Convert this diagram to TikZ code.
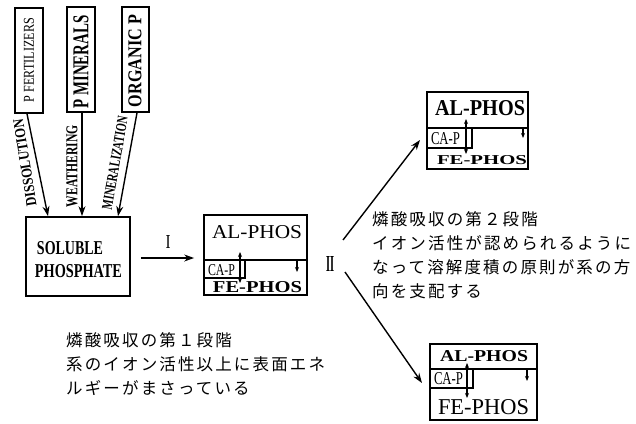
\documentclass[tikz,border=0pt]{standalone}
\usepackage{fontspec}
\setmainfont{Liberation Serif}
\newfontfamily\cjk[LetterSpace=13]{Noto Sans CJK JP}
\usetikzlibrary{arrows.meta}
\newcommand{\fitt}[3]{\resizebox{#1pt}{#2pt}{#3}}
\tikzset{
  box/.style={draw, line width=1.7pt, inner sep=0pt},
  lbl/.style={inner sep=0pt},
  arr/.style={line width=1.4pt, -{Stealth[length=10pt,width=7pt]}},
  inner/.style={line width=1.3pt},
  small/.style={line width=1.2pt, -{Stealth[length=5pt,width=4pt]}},
  dbl/.style={line width=1.2pt, {Stealth[length=5pt,width=4pt]}-{Stealth[length=5pt,width=4pt]}},
  jp/.style={inner sep=0pt, anchor=west, font=\cjk\fontsize{16.5pt}{20pt}\selectfont},
}
\begin{document}
\begin{tikzpicture}[x=1pt,y=-1pt]
\useasboundingbox (0,0) rectangle (636,423);

% top source boxes
\node[box, minimum width=28pt, minimum height=105pt] (F) at (29,60.5) {};
\node[box, minimum width=28pt, minimum height=105pt] (PM) at (81,59.5) {};
\node[box, minimum width=27pt, minimum height=105pt] (O) at (135.5,59.5) {};
\node[lbl, rotate=90] (Ft) at (29,60) {\fitt{84}{10}{P FERTILIZERS}};
\node[lbl, rotate=90] (PMt) at (81,62) {\fitt{93}{15}{\bfseries P MINERALS}};
\node[lbl, rotate=90] (Ot) at (135,61) {\fitt{92}{13}{\bfseries ORGANIC P}};

% soluble phosphate
\node[box, minimum width=104pt, minimum height=79pt] (S) at (78,256.5) {};
\node[lbl] (S1) at (70,248.5) {\fitt{66}{13}{\bfseries SOLUBLE}};
\node[lbl] (S2) at (78.5,271.5) {\fitt{87}{13}{\bfseries PHOSPHATE}};

% arrows to soluble phosphate
\draw[arr] ([xshift=-2pt]F.south) -- ([xshift=-30pt]S.north);
\draw[arr] ([xshift=1pt]PM.south) -- ([xshift=4pt]S.north);
\draw[arr] ([xshift=1.5pt]O.south) -- ([xshift=40pt]S.north);
\node[lbl, rotate=99] (D) at (25,163) {\fitt{88}{10}{\bfseries DISSOLUTION}};
\node[lbl, rotate=90] (W) at (72,166) {\fitt{82}{11}{\bfseries WEATHERING}};
\node[lbl, rotate=80] (Mz) at (115,163) {\fitt{94}{10}{\bfseries MINERALIZATION}};

% middle box
\node[box, minimum width=103pt, minimum height=80pt] (M) at (255.5,255) {};
\draw[inner] (204,260) -- (307,260);
\draw[inner] (204,278) -| (245,260);
\draw[dbl] (240,252) -- (240,283);
\draw[small] (297,260) -- (297,272);
\node[lbl] (Ma) at (257,232) {\fitt{90}{13}{AL-PHOS}};
\node[lbl] (Mc) at (221.5,270.5) {\fitt{27}{11}{CA-P}};
\node[lbl] (Mf) at (257.5,287.5) {\fitt{89}{11}{\bfseries FE-PHOS}};

% arrow I
\draw[arr, shorten <=10pt, shorten >=9pt] (S.east |- 0,258) -- (M.west |- 0,258);
\node[lbl] (I) at (168,241.5) {\fitt{5}{13}{I}};

% top right box
\node[box, minimum width=101pt, minimum height=77pt] (T) at (477.5,130.5) {};
\draw[inner] (427,128) -- (528,128);
\draw[inner] (427,148) -| (472,128);
\draw[dbl] (466,119) -- (466,154);
\draw[small] (523,128) -- (523,138);
\node[lbl] (Ta) at (480,108.5) {\fitt{90}{15}{\bfseries AL-PHOS}};
\node[lbl] (Tc) at (445.5,139) {\fitt{29}{12}{CA-P}};
\node[lbl] (Tf) at (482,160.5) {\fitt{90}{9}{\bfseries FE-PHOS}};

% bottom right box
\node[box, minimum width=107pt, minimum height=76pt] (B) at (483.5,382) {};
\draw[inner] (430,369) -- (537,369);
\draw[inner] (430,388) -| (473,369);
\draw[dbl] (467,363) -- (467,398);
\draw[small] (527,369) -- (527,381);
\node[lbl] (Ba) at (484,356.5) {\fitt{88}{11}{\bfseries AL-PHOS}};
\node[lbl] (Bc) at (448.5,379) {\fitt{29}{12}{CA-P}};
\node[lbl] (Bf) at (483.5,407.5) {\fitt{91}{15}{FE-PHOS}};

% II and branching arrows
\node[lbl] (II) at (330,264) {\fitt{8}{15}{\bfseries II}};
\coordinate (u0) at (343,240);
\coordinate (l0) at (345,272);
\coordinate (ut) at (420,140);
\coordinate (lt) at (422,383);
\draw[arr] (u0) -- (ut);
\draw[arr] (l0) -- (lt);

% Japanese text
\node[jp] (j21) at (372,219) {燐酸吸収の第２段階};
\node[jp] (j22) at (372,243) {イオン活性が認められるように};
\node[jp] (j23) at (372,267) {なって溶解度積の原則が系の方};
\node[jp] (j24) at (372,291) {向を支配する};

\node[jp] (j11) at (66,340) {燐酸吸収の第１段階};
\node[jp] (j12) at (66,364) {系のイオン活性以上に表面エネ};
\node[jp] (j13) at (66,388) {ルギーがまさっている};
\end{tikzpicture}
\end{document}
